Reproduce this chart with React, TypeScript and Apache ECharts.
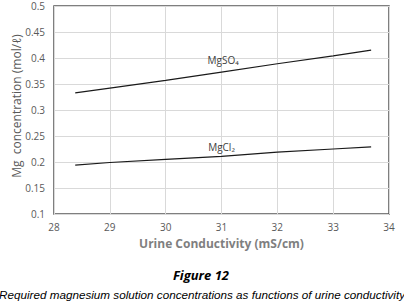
import React, { useEffect, useRef } from "react";
import * as echarts from "echarts";

const conductivity = [28.38, 29, 30, 31, 32, 33, 33.68];
const mgso4 = [0.333, 0.342, 0.357, 0.373, 0.389, 0.404, 0.415];
const mgcl2 = [0.194, 0.199, 0.205, 0.211, 0.219, 0.225, 0.229];
const seriesNames = ["MgSO₄", "MgCl₂"];
const labelAt = [
  [31.03, 0.396],
  [31.0, 0.229],
];
const xTitle = "Urine Conductivity (mS/cm)";
const yTitle = "Mg  concentration (mol/ℓ)";
const figureTitle = "Figure 12";
const caption =
  "Required magnesium solution concentrations as functions of urine conductivity";

export default function App() {
  const ref = useRef<HTMLDivElement>(null);
  useEffect(() => {
    document.body.style.margin = "0";
    const chart = echarts.init(ref.current!, null, { renderer: "svg" });
    const font = "'Open Sans', 'Noto Sans', sans-serif";
    const mk = (vals: number[]) => conductivity.map((c, i) => [c, vals[i]]);
    const lineSeries = (name: string, vals: number[], lab: number[]) => ({
      type: "line",
      name,
      data: mk(vals),
      showSymbol: false,
      symbol: "none",
      lineStyle: { color: "#1a1a1a", width: 1.2 },
      markPoint: {
        symbol: "circle",
        symbolSize: 1,
        itemStyle: { color: "rgba(0,0,0,0)" },
        data: [{ coord: lab, value: name }],
        label: {
          show: true,
          position: "inside",
          formatter: name,
          color: "#404040",
          fontSize: 10,
          fontFamily: font,
        },
      },
    });
    chart.setOption({
      animation: false,
      backgroundColor: "#fff",
      grid: {
        left: 54,
        top: 6,
        right: 15,
        bottom: 89,
        show: true,
        borderColor: "#555",
        borderWidth: 1.5,
      },
      xAxis: {
        type: "value",
        min: 28,
        max: 34,
        interval: 1,
        name: xTitle,
        nameLocation: "middle",
        nameGap: 23,
        nameTextStyle: {
          color: "#7f7f7f",
          fontSize: 12,
          fontWeight: "bold",
          fontFamily: font,
        },
        axisLine: { show: false },
        axisTick: { show: false },
        axisLabel: { color: "#595959", fontSize: 10, margin: 8, fontFamily: font },
        splitLine: { show: true, lineStyle: { color: "#d9d9d9", width: 1 } },
      },
      yAxis: {
        type: "value",
        min: 0.1,
        max: 0.5,
        interval: 0.05,
        axisLine: { show: false },
        axisTick: { show: false },
        axisLabel: {
          color: "#595959",
          fontSize: 10,
          margin: 9,
          fontFamily: font,
          formatter: (v: number) => String(Math.round(v * 100) / 100),
        },
        splitLine: { show: true, lineStyle: { color: "#d9d9d9", width: 1 } },
      },
      series: [
        lineSeries(seriesNames[0], mgso4, labelAt[0]),
        lineSeries(seriesNames[1], mgcl2, labelAt[1]),
      ],
      graphic: [
        {
          type: "text",
          x: 16,
          y: 106,
          rotation: Math.PI / 2,
          style: {
            text: yTitle,
            fill: "#595959",
            fontSize: 12,
            fontFamily: font,
            align: "center",
            verticalAlign: "middle",
          },
        },
        {
          type: "text",
          x: 201,
          y: 275,
          style: {
            text: figureTitle,
            fill: "#000",
            fontSize: 13,
            fontWeight: "bold",
            fontStyle: "italic",
            fontFamily: font,
            align: "center",
            verticalAlign: "middle",
          },
        },
        {
          type: "text",
          x: 202,
          y: 294,
          style: {
            text: caption,
            fill: "#000",
            fontSize: 11.7,
            fontStyle: "italic",
            fontFamily: "'Liberation Sans', sans-serif",
            align: "center",
            verticalAlign: "middle",
          },
        },
      ],
    });
    return () => chart.dispose();
  }, []);
  return <div ref={ref} style={{ width: 404, height: 303 }} />;
}
